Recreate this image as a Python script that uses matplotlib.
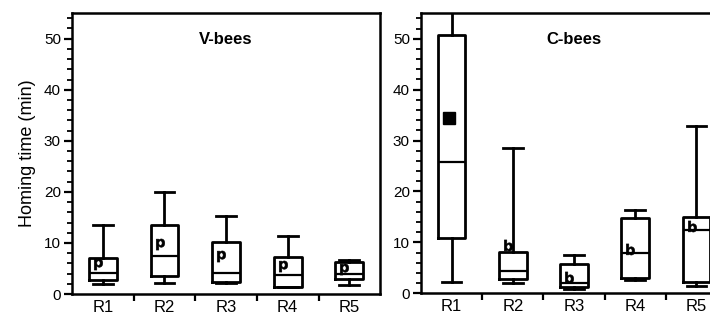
import matplotlib.pyplot as plt
from matplotlib.ticker import MultipleLocator, FixedLocator

plt.rcParams['font.family'] = ['Liberation Sans', 'DejaVu Sans']

groups = ['R1', 'R2', 'R3', 'R4', 'R5']

# V-bees
v_whislo = [2.0, 2.1, 2.1, 1.3, 1.8]
v_q1 = [2.8, 3.6, 2.3, 1.4, 3.0]
v_med = [4.2, 7.4, 4.1, 3.8, 3.9]
v_q3 = [7.0, 13.5, 10.2, 7.2, 6.3]
v_whishi = [13.5, 20.0, 15.2, 11.4, 6.6]
v_mean = [5.9, 9.8, 7.4, 5.4, 4.9]

# C-bees
c_whislo = [2.3, 2.1, 0.8, 2.6, 1.4]
c_q1 = [10.9, 2.9, 1.2, 3.1, 2.3]
c_med = [25.7, 4.4, 2.1, 8.0, 12.5]
c_q3 = [50.8, 8.2, 5.7, 14.7, 15.0]
c_whishi = [62.0, 28.6, 7.5, 16.3, 32.9]
c_mean = [34.5, 9.5, 3.3, 8.8, 13.2]

lw = 2.0
fig = plt.figure(figsize=(7.1, 3.2), dpi=100)
ax1 = fig.add_axes([0.1014, 0.081, 0.434, 0.878])
ax2 = fig.add_axes([0.593, 0.0834, 0.431, 0.875])


def draw(ax, lo, q1, med, q3, hi, mean, title, mean_mark):
    stats = []
    for i in range(len(groups)):
        stats.append(dict(whislo=lo[i], q1=q1[i], med=med[i], q3=q3[i],
                          whishi=hi[i], fliers=[], label=groups[i]))
    ax.bxp(stats, positions=range(1, 6), widths=0.45, showfliers=False,
           boxprops=dict(color='black', linewidth=lw),
           medianprops=dict(color='black', linewidth=lw * 0.8),
           whiskerprops=dict(color='black', linewidth=lw),
           capprops=dict(color='black', linewidth=lw),
           capwidths=0.32)
    for i, m in enumerate(mean):
        mk = mean_mark[i]
        if mk == 's':
            ax.plot(i + 1 - 0.04, m, marker='s', color='black', markersize=8)
        else:
            ax.plot(i + 1 - 0.08, m, marker='$\\mathbf{' + mk + '}$',
                    color='black', markersize=8, markeredgewidth=0.4)
    ax.set_xlim(0.5, 5.5)
    ax.set_ylim(0, 55)
    ax.yaxis.set_major_locator(MultipleLocator(10))
    ax.yaxis.set_minor_locator(MultipleLocator(2))
    ax.xaxis.set_major_locator(FixedLocator(range(1, 6)))
    ax.set_xticklabels(groups)
    ax.xaxis.set_minor_locator(FixedLocator([1.5, 2.5, 3.5, 4.5]))
    ax.tick_params(axis='x', which='major', length=0, labelsize=12, pad=4)
    ax.tick_params(axis='x', which='minor', length=5, width=1.6, direction='out')
    ax.tick_params(axis='y', which='major', length=6, width=1.6, labelsize=11, pad=2)
    ax.tick_params(axis='y', which='minor', length=3.5, width=1.3)
    for s in ax.spines.values():
        s.set_linewidth(1.8)
    ax.text(0.5, 0.905, title, transform=ax.transAxes, ha='center',
            va='center', fontsize=12, fontweight='bold')


draw(ax1, v_whislo, v_q1, v_med, v_q3, v_whishi, v_mean, 'V-bees',
     ['p', 'p', 'p', 'p', 'p'])
draw(ax2, c_whislo, c_q1, c_med, c_q3, c_whishi, c_mean, 'C-bees',
     ['s', 'b', 'b', 'b', 'b'])
ax1.set_ylabel('Homing time (min)', fontsize=13, labelpad=6)

fig.savefig('out.png', dpi=100)
